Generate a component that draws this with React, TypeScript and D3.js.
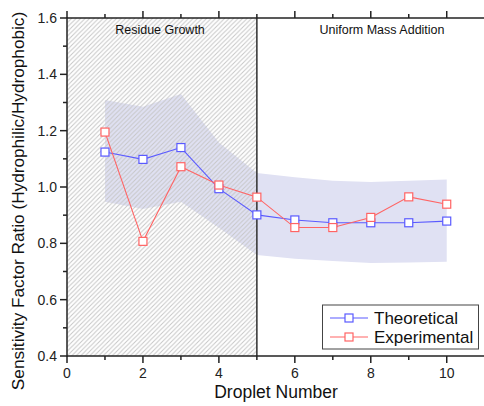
import React from "react";
import * as d3 from "d3";

const droplets = [1, 2, 3, 4, 5, 6, 7, 8, 9, 10];
const theoretical = [1.124, 1.098, 1.14, 0.994, 0.901, 0.883, 0.873, 0.873, 0.873, 0.879];
const experimental = [1.195, 0.807, 1.072, 1.007, 0.964, 0.856, 0.856, 0.892, 0.965, 0.939];
const bandUpper = [1.309, 1.285, 1.33, 1.158, 1.05, 1.035, 1.022, 1.018, 1.022, 1.027];
const bandLower = [0.948, 0.922, 0.948, 0.855, 0.759, 0.745, 0.737, 0.73, 0.732, 0.735];
const xTicks = [0, 2, 4, 6, 8, 10];
const xMinor = [1, 3, 5, 7, 9];
const yTicks = [0.4, 0.6, 0.8, 1.0, 1.2, 1.4, 1.6];
const yMinor = [0.5, 0.7, 0.9, 1.1, 1.3, 1.5];
const regionSplit = 5;
const seriesNames = ["Theoretical", "Experimental"];

const W = 484;
const H = 406;
const FONT = "'Liberation Sans', Arial, sans-serif";
const BLUE = "#5a5aff";
const RED = "#ff6464";

export default function App() {
  const x = d3.scaleLinear().domain([0, 11]).range([67, 484.7]);
  const y = d3.scaleLinear().domain([0.4, 1.6]).range([356, 18]);
  const x0 = x(0);
  const y0 = y(0.4);
  const yTop = y(1.6);

  const area = d3
    .area<number>()
    .x((d) => x(d))
    .y0((_, i) => y(bandLower[i]))
    .y1((_, i) => y(bandUpper[i]));
  const line = d3
    .line<number>()
    .x((_, i) => x(droplets[i]))
    .y((d) => y(d));

  const series = [
    { name: seriesNames[0], vals: theoretical, color: BLUE },
    { name: seriesNames[1], vals: experimental, color: RED },
  ];

  const fmt = d3.format(".1f");
  const ms = 8;
  const hs = 4.5;

  return (
    <svg
      width={W}
      height={H}
      style={{ position: "absolute", left: 0, top: 0, background: "#fff" }}
      fontFamily={FONT}
    >
      <defs>
        <pattern id="hatch" patternUnits="userSpaceOnUse" width={hs} height={hs}>
          <path
            d={`M0,${hs} L${hs},0 M-1,1 L1,-1 M${hs - 1},${hs + 1} L${hs + 1},${hs - 1}`}
            stroke="#c6c6c6"
            strokeWidth={1}
          />
        </pattern>
      </defs>
      {/* band */}
      <path d={area(droplets) || ""} fill="#e0e1f3" />
      {/* hatch region */}
      <rect x={x0} y={yTop} width={x(regionSplit) - x0} height={y0 - yTop} fill="url(#hatch)" />
      {/* split line */}
      <line x1={x(regionSplit)} x2={x(regionSplit)} y1={yTop} y2={y0} stroke="#3a3a3a" strokeWidth={1.6} />
      {/* region labels */}
      <text x={160} y={34} fontSize={12.5} textAnchor="middle" fill="#111">Residue Growth</text>
      <text x={382} y={34} fontSize={12.5} textAnchor="middle" fill="#111">Uniform Mass Addition</text>

      {/* series */}
      {series.map((s) => (
        <g key={s.name}>
          <path d={line(s.vals) || ""} fill="none" stroke={s.color} strokeWidth={1.1} />
          {s.vals.map((v, i) => (
            <rect
              key={i}
              x={x(droplets[i]) - ms / 2}
              y={y(v) - ms / 2}
              width={ms}
              height={ms}
              fill="#fff"
              stroke={s.color}
              strokeWidth={1.2}
            />
          ))}
        </g>
      ))}

      {/* axes */}
      <g stroke="#222" strokeWidth={1.5}>
        <line x1={x0} x2={W} y1={y0} y2={y0} />
        <line x1={x0} x2={W} y1={yTop} y2={yTop} />
        <line x1={x0} x2={x0} y1={yTop - 0.75} y2={y0 + 0.75} />
        {xTicks.map((t) => (
          <g key={"xt" + t}>
            <line x1={x(t)} x2={x(t)} y1={y0} y2={y0 + 7} />
            <line x1={x(t)} x2={x(t)} y1={yTop} y2={yTop - 7} />
          </g>
        ))}
        {xMinor.map((t) => (
          <g key={"xm" + t}>
            <line x1={x(t)} x2={x(t)} y1={y0} y2={y0 + 4} />
            <line x1={x(t)} x2={x(t)} y1={yTop} y2={yTop - 4} />
          </g>
        ))}
        {yTicks.map((t) => (
          <line key={"yt" + t} x1={x0} x2={x0 - 7} y1={y(t)} y2={y(t)} />
        ))}
        {yMinor.map((t) => (
          <line key={"ym" + t} x1={x0} x2={x0 - 4} y1={y(t)} y2={y(t)} />
        ))}
      </g>
      {xTicks.map((t) => (
        <text key={"xl" + t} x={x(t)} y={y0 + 22} fontSize={14} textAnchor="middle" fill="#222">
          {t}
        </text>
      ))}
      {yTicks.map((t) => (
        <text key={"yl" + t} x={x0 - 10} y={y(t) + 5} fontSize={14} textAnchor="end" fill="#222">
          {fmt(t)}
        </text>
      ))}
      <text x={276} y={398} fontSize={17.5} textAnchor="middle" fill="#111">Droplet Number</text>
      <text
        transform={`translate(24,${201}) rotate(-90)`}
        fontSize={17.2}
        textAnchor="middle"
        fill="#111"
      >
        Sensitivity Factor Ratio (Hydrophilic/Hydrophobic)
      </text>

      {/* legend */}
      <g>
        <rect x={322.5} y={305} width={156} height={44} fill="#fff" stroke="#444" strokeWidth={1} />
        {series.map((s, i) => {
          const ly = 318 + i * 19;
          return (
            <g key={"lg" + s.name}>
              <line x1={330} x2={368} y1={ly} y2={ly} stroke={s.color} strokeWidth={1.1} />
              <rect x={349 - ms / 2} y={ly - ms / 2} width={ms} height={ms} fill="#fff" stroke={s.color} strokeWidth={1.2} />
              <text x={374} y={ly + 6} fontSize={17} fill="#111">
                {s.name}
              </text>
            </g>
          );
        })}
      </g>
    </svg>
  );
}
